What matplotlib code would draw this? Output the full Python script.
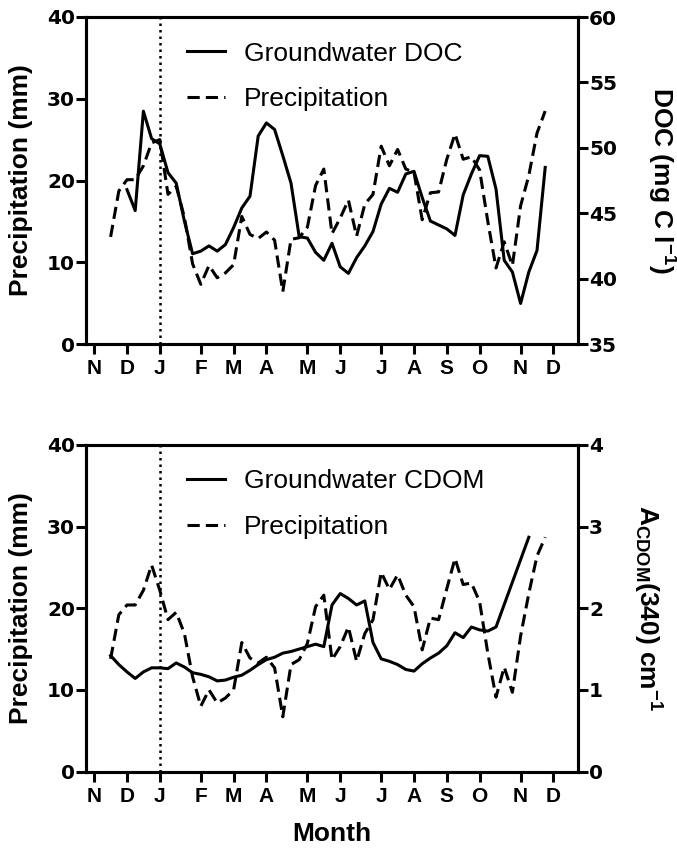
import matplotlib
matplotlib.use('Agg')
import matplotlib.pyplot as plt

plt.rcParams['font.family'] = ['Liberation Sans', 'DejaVu Sans']
plt.rcParams['mathtext.fontset'] = 'custom'
plt.rcParams['mathtext.rm'] = 'Liberation Sans:bold'
plt.rcParams['mathtext.bf'] = 'Liberation Sans:bold'
plt.rcParams['mathtext.it'] = 'Liberation Sans:bold'

# ---- data (x in weeks from start of November) ----
month_ticks = [0, 4, 8, 13, 17, 21, 26, 30, 35, 39, 43, 47, 52, 56]
month_labels = ['N', 'D', 'J', 'F', 'M', 'A', 'M', 'J', 'J', 'A', 'S', 'O', 'N', 'D']
jan_week = 8

precip_weeks = [2, 3, 4, 5, 6, 7, 8, 9, 10, 11, 12, 13, 14, 15, 16, 17, 18, 19, 20,
                21, 22, 23, 24, 25, 26, 27, 28, 29, 30, 31, 32, 33, 34, 35, 36, 37,
                38, 39, 40, 41, 42, 43, 44, 45, 46, 47, 48, 49, 50, 51, 52, 53, 54, 55]
precip_top = [13.1, 18.7, 20.1, 20.1, 21.8, 24.6, 25.0, 18.3, 19.3, 15.5, 9.8, 7.3,
              9.6, 8.1, 8.7, 9.7, 15.6, 13.4, 12.9, 13.7, 12.7, 6.4, 12.8, 13.0, 14.3,
              19.4, 21.4, 13.5, 15.4, 17.6, 13.2, 17.1, 18.3, 24.2, 21.8, 23.8, 21.4,
              21.0, 15.2, 18.5, 18.6, 22.6, 25.7, 22.6, 22.9, 21.3, 15.0, 9.3, 12.5,
              9.6, 16.9, 20.6, 25.8, 28.5]
precip_bottom = [13.8, 19.2, 20.4, 20.4, 22.2, 25.3, 22.2, 18.6, 19.5, 16.9, 11.6, 8.0,
                 10.0, 8.4, 9.0, 10.0, 15.8, 13.9, 13.3, 14.0, 12.7, 6.7, 13.1, 13.7,
                 15.7, 20.2, 21.6, 13.7, 15.3, 17.7, 13.5, 16.9, 18.6, 24.4, 22.3, 24.1,
                 21.6, 20.2, 14.9, 18.8, 18.6, 22.4, 26.1, 22.9, 23.1, 20.8, 14.5, 9.1,
                 12.8, 9.7, 16.6, 21.8, 26.4, 28.7]

doc_weeks = [4, 5, 6, 7, 8, 9, 10, 11, 12, 13, 14, 15, 16, 17, 18, 19, 20, 21, 22, 23,
             24, 25, 26, 27, 28, 29, 30, 31, 32, 33, 34, 35, 36, 37, 38, 39, 40, 41,
             42, 43, 44, 45, 46, 47, 48, 49, 50, 51, 52, 53, 54, 55]
doc_values = [46.8, 45.2, 52.8, 50.7, 50.3, 48.1, 47.3, 44.4, 41.9, 42.1, 42.5, 42.1,
              42.6, 43.9, 45.4, 46.3, 50.9, 51.9, 51.4, 49.4, 47.3, 43.2, 43.1, 42.0,
              41.4, 42.7, 40.9, 40.4, 41.6, 42.5, 43.6, 45.7, 46.9, 46.6, 48.0, 48.2,
              46.2, 44.4, 44.1, 43.8, 43.3, 46.4, 48.0, 49.4, 49.35, 46.85, 41.4, 40.5,
              38.1, 40.5, 42.15, 48.5]

cdom_weeks = [2, 3, 4, 5, 6, 7, 8, 9, 10, 11, 12, 13, 14, 15, 16, 17, 18, 19, 20, 21,
              22, 23, 24, 25, 26, 27, 28, 29, 30, 31, 32, 33, 34, 35, 36, 37, 38, 39,
              40, 41, 42, 43, 44, 45, 46, 47, 48, 49, 53]
cdom_values = [1.42, 1.31, 1.22, 1.14, 1.22, 1.27, 1.27, 1.26, 1.33, 1.28, 1.21, 1.19,
               1.16, 1.11, 1.12, 1.155, 1.18, 1.24, 1.31, 1.37, 1.40, 1.45, 1.47, 1.50,
               1.53, 1.56, 1.53, 2.04, 2.18, 2.12, 2.04, 2.09, 1.58, 1.38, 1.35, 1.31,
               1.25, 1.23, 1.32, 1.39, 1.45, 1.54, 1.70, 1.64, 1.77, 1.735, 1.72, 1.77,
               2.87]

W, H = 677, 851
fig = plt.figure(figsize=(W / 100, H / 100), dpi=100)

LW = 2.2
SPW = 2.2
num_font = dict(family='DejaVu Sans', weight='bold', size=14.5)
mon_font = dict(family='Liberation Sans', weight='bold', size=15)


def make_panel(top_px, bot_px, precip, right_x, right_y, right_lim, right_ticks,
               right_label, legend_label, show_month_label):
    ax = fig.add_axes([86 / W, 1 - bot_px / H, (578 - 86) / W, (bot_px - top_px) / H])
    ax2 = ax.twinx()
    ax.set_xlim(-1, 59)
    ax.set_ylim(0, 40)
    ax2.set_ylim(*right_lim)

    ax.axvline(jan_week, color='black', lw=1.8, linestyle=(0, (1, 1.6)), zorder=1)
    lp, = ax.plot(precip_weeks, precip, color='black', lw=LW,
                  linestyle=(0, (4, 2)), label='Precipitation')
    ls, = ax2.plot(right_x, right_y, color='black', lw=LW, label=legend_label)

    ax.set_xticks(month_ticks)
    ax.set_xticklabels(month_labels, fontdict=mon_font)
    ax.set_yticks([0, 10, 20, 30, 40])
    ax.set_yticklabels(['0', '10', '20', '30', '40'], fontdict=num_font)
    ax2.set_yticks(right_ticks)
    ax2.set_yticklabels([str(t) for t in right_ticks], fontdict=num_font)

    for a in (ax, ax2):
        for sp in a.spines.values():
            sp.set_linewidth(SPW)
        a.tick_params(width=SPW, length=7, direction='out')
    ax.tick_params(axis='y', pad=1)
    ax2.tick_params(axis='y', pad=1)
    ax.tick_params(axis='x', pad=4)

    ax2.legend([ls, lp], [legend_label, 'Precipitation'], loc='upper left',
               bbox_to_anchor=(0.205, 0.925), frameon=False, fontsize=19,
               handlelength=1.45, handletextpad=0.7, labelspacing=0.82,
               borderpad=0, borderaxespad=0)

    fig.text(21 / W, 1 - (top_px + bot_px) / 2 / H, 'Precipitation (mm)',
             rotation=90, ha='center', va='center', fontsize=19, fontweight='bold')
    fig.text(right_label[1] / W, 1 - (top_px + bot_px) / 2 / H, right_label[0],
             rotation=270, ha='center', va='center', fontsize=19, fontweight='bold')
    if show_month_label:
        ax.set_xlabel('Month', fontsize=19, fontweight='bold', labelpad=12)
    return ax, ax2


make_panel(17, 344, precip_top, doc_weeks, doc_values, (35, 60), [35, 40, 45, 50, 55, 60],
           (r'DOC (mg C l$^{-1}$)', 661), 'Groundwater DOC', False)
make_panel(445, 771.5, precip_bottom, cdom_weeks, cdom_values, (0, 4), [0, 1, 2, 3, 4],
           (r'A$_{\mathrm{CDOM}}$(340) cm$^{-1}$', 647), 'Groundwater CDOM', True)

fig.savefig('out.png', dpi=100)
